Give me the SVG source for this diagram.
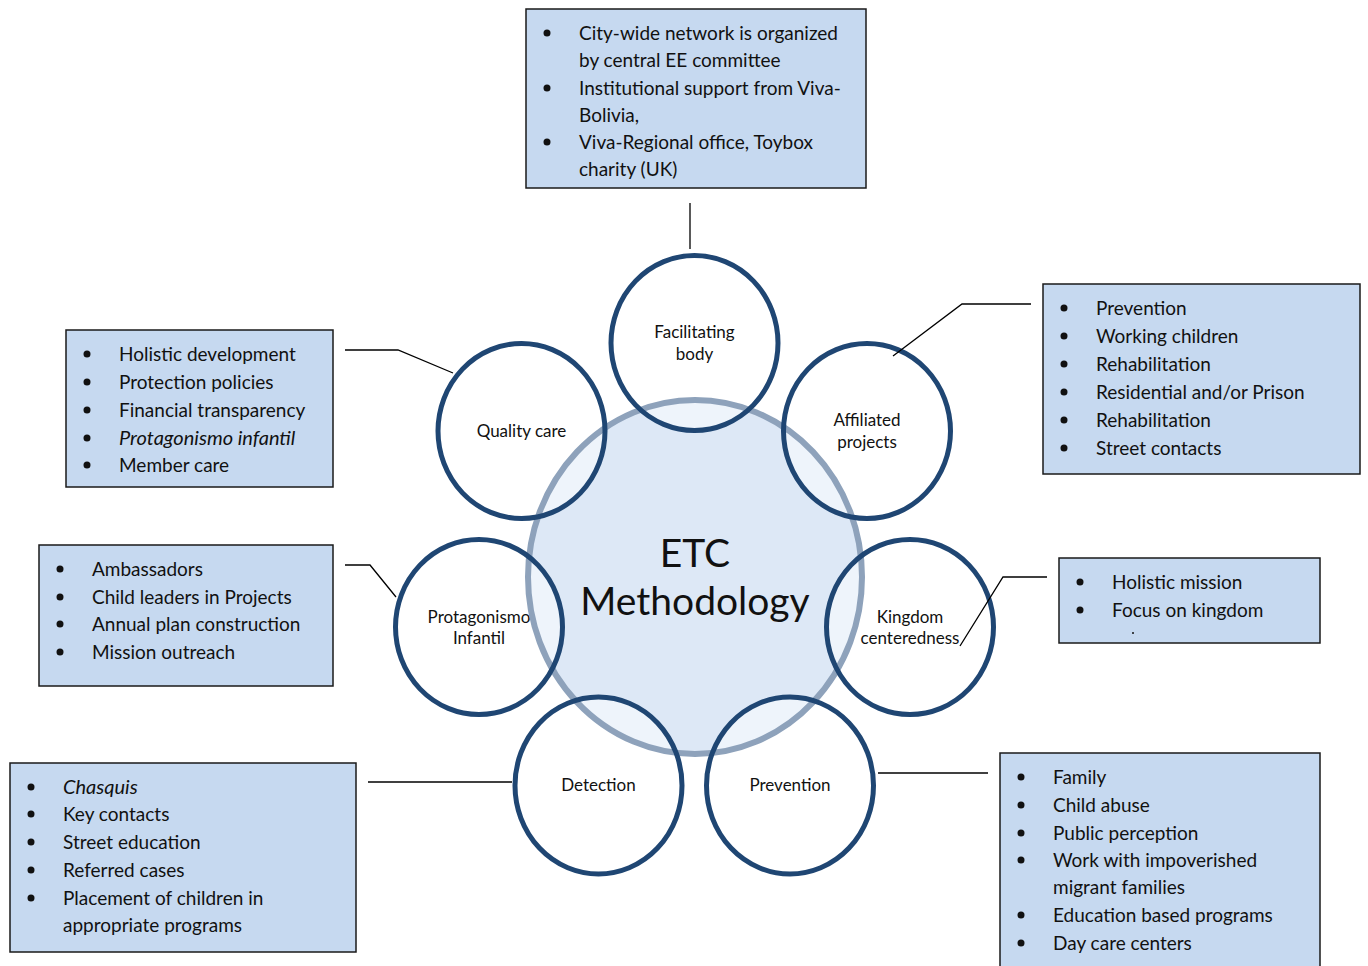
<svg xmlns="http://www.w3.org/2000/svg" width="1368" height="966" viewBox="0 0 1368 966">
<defs>
<style>
.box{fill:#c6d9f0;stroke:#1a1a1a;stroke-width:1.5}
.bt{font-family:Lato,"Liberation Sans",sans-serif;font-size:19px;fill:#111}
.it{font-style:italic;font-size:20px}
.bul{fill:#111}
.sf{fill:#ffffff;fill-opacity:0.5}
.so{fill:none;stroke:#1f4673;stroke-width:5}
.ct{font-family:Lato,"Liberation Sans",sans-serif;font-size:17px;fill:#111;text-anchor:middle}
.big{font-family:Lato,"Liberation Sans",sans-serif;font-size:39px;fill:#111;text-anchor:middle}
.con{fill:none;stroke:#000;stroke-width:1.3}
</style>
</defs>
<rect width="1368" height="966" fill="#fff"/>

<g id="etc-center">
<ellipse cx="695" cy="577" rx="167" ry="177" fill="#dde8f6"/>
</g>

<g id="node-facilitating">
<ellipse class="sf" cx="694.5" cy="343" rx="83.5" ry="87.5"/>
<text class="ct" x="694.5" y="338">Facilitating</text>
<text class="ct" x="694.5" y="360">body</text>
</g>
<g id="node-affiliated">
<ellipse class="sf" cx="867" cy="431" rx="83.5" ry="87.5"/>
<text class="ct" x="867" y="426">Affiliated</text>
<text class="ct" x="867" y="448">projects</text>
</g>
<g id="node-quality">
<ellipse class="sf" cx="521.5" cy="431" rx="83.5" ry="87.5"/>
<text class="ct" x="521.5" y="437">Quality care</text>
</g>
<g id="node-kingdom">
<ellipse class="sf" cx="910" cy="627" rx="83.5" ry="87.5"/>
<text class="ct" x="910" y="623">Kingdom</text>
<text class="ct" x="910" y="644">centeredness</text>
</g>
<g id="node-protagonismo">
<ellipse class="sf" cx="479" cy="627" rx="83.5" ry="87.5"/>
<text class="ct" x="479" y="623">Protagonismo</text>
<text class="ct" x="479" y="644">Infantil</text>
</g>
<g id="node-detection">
<ellipse class="sf" cx="598.5" cy="785.5" rx="83.5" ry="88.5"/>
<text class="ct" x="598.5" y="791">Detection</text>
</g>
<g id="node-prevention">
<ellipse class="sf" cx="790" cy="785.5" rx="83.5" ry="88.5"/>
<text class="ct" x="790" y="791">Prevention</text>
</g>

<g id="etc-ring">
<ellipse cx="695" cy="577" rx="167" ry="177" fill="none" stroke="#8ea2bb" stroke-width="6"/>
<text class="big" x="695" y="567">ETC</text>
<text class="big" x="695" y="615">Methodology</text>
</g>

<g id="satellite-outlines">
<ellipse class="so" cx="694.5" cy="343" rx="83.5" ry="87.5"/>
<ellipse class="so" cx="867" cy="431" rx="83.5" ry="87.5"/>
<ellipse class="so" cx="521.5" cy="431" rx="83.5" ry="87.5"/>
<ellipse class="so" cx="910" cy="627" rx="83.5" ry="87.5"/>
<ellipse class="so" cx="479" cy="627" rx="83.5" ry="87.5"/>
<ellipse class="so" cx="598.5" cy="785.5" rx="83.5" ry="88.5"/>
<ellipse class="so" cx="790" cy="785.5" rx="83.5" ry="88.5"/>
</g>

<g id="connectors">
<line class="con" x1="690" y1="203" x2="690" y2="249"/>
<polyline class="con" points="345,350 398,350 453,373"/>
<polyline class="con" points="1031,304 962,304 893,356"/>
<polyline class="con" points="345,565 370,565 396,597"/>
<polyline class="con" points="1047,577 1003,577 960,646"/>
<line class="con" x1="368" y1="782" x2="512" y2="782"/>
<line class="con" x1="878" y1="773" x2="988" y2="773"/>
</g>

<g id="box-top">
<rect class="box" x="526" y="9" width="340" height="179"/>
<circle class="bul" cx="547" cy="33" r="3.5"/>
<circle class="bul" cx="547" cy="88" r="3.5"/>
<circle class="bul" cx="547" cy="142" r="3.5"/>
<text class="bt" x="579" y="40">City-wide network is organized</text>
<text class="bt" x="579" y="67">by central EE committee</text>
<text class="bt" x="579" y="95">Institutional support from Viva-</text>
<text class="bt" x="579" y="122">Bolivia,</text>
<text class="bt" x="579" y="149">Viva-Regional office, Toybox</text>
<text class="bt" x="579" y="176">charity (UK)</text>
</g>

<g id="box-affiliated">
<rect class="box" x="1043" y="284" width="317" height="190"/>
<circle class="bul" cx="1064" cy="308" r="3.5"/>
<circle class="bul" cx="1064" cy="336" r="3.5"/>
<circle class="bul" cx="1064" cy="364" r="3.5"/>
<circle class="bul" cx="1064" cy="392" r="3.5"/>
<circle class="bul" cx="1064" cy="420" r="3.5"/>
<circle class="bul" cx="1064" cy="448" r="3.5"/>
<text class="bt" x="1096" y="315">Prevention</text>
<text class="bt" x="1096" y="343">Working children</text>
<text class="bt" x="1096" y="371">Rehabilitation</text>
<text class="bt" x="1096" y="399">Residential and/or Prison</text>
<text class="bt" x="1096" y="427">Rehabilitation</text>
<text class="bt" x="1096" y="455">Street contacts</text>
</g>

<g id="box-kingdom">
<rect class="box" x="1059" y="558" width="261" height="85"/>
<circle class="bul" cx="1080" cy="582" r="3.5"/>
<circle class="bul" cx="1080" cy="610" r="3.5"/>
<text class="bt" x="1112" y="589">Holistic mission</text>
<text class="bt" x="1112" y="617">Focus on kingdom</text>
<circle class="bul" cx="1133" cy="633" r="1"/>
</g>

<g id="box-prevention">
<rect class="box" x="1000" y="753" width="320" height="230"/>
<circle class="bul" cx="1021" cy="777" r="3.5"/>
<circle class="bul" cx="1021" cy="805" r="3.5"/>
<circle class="bul" cx="1021" cy="833" r="3.5"/>
<circle class="bul" cx="1021" cy="860" r="3.5"/>
<circle class="bul" cx="1021" cy="915" r="3.5"/>
<circle class="bul" cx="1021" cy="943" r="3.5"/>
<text class="bt" x="1053" y="784">Family</text>
<text class="bt" x="1053" y="812">Child abuse</text>
<text class="bt" x="1053" y="840">Public perception</text>
<text class="bt" x="1053" y="867">Work with impoverished</text>
<text class="bt" x="1053" y="894">migrant families</text>
<text class="bt" x="1053" y="922">Education based programs</text>
<text class="bt" x="1053" y="950">Day care centers</text>
</g>

<g id="box-quality">
<rect class="box" x="66" y="330" width="267" height="157"/>
<circle class="bul" cx="87" cy="354" r="3.5"/>
<circle class="bul" cx="87" cy="382" r="3.5"/>
<circle class="bul" cx="87" cy="410" r="3.5"/>
<circle class="bul" cx="87" cy="438" r="3.5"/>
<circle class="bul" cx="87" cy="465" r="3.5"/>
<text class="bt" x="119" y="361">Holistic development</text>
<text class="bt" x="119" y="389">Protection policies</text>
<text class="bt" x="119" y="417">Financial transparency</text>
<text class="bt it" x="119" y="445">Protagonismo infantil</text>
<text class="bt" x="119" y="472">Member care</text>
</g>

<g id="box-protagonismo">
<rect class="box" x="39" y="545" width="294" height="141"/>
<circle class="bul" cx="60" cy="569" r="3.5"/>
<circle class="bul" cx="60" cy="597" r="3.5"/>
<circle class="bul" cx="60" cy="624" r="3.5"/>
<circle class="bul" cx="60" cy="652" r="3.5"/>
<text class="bt" x="92" y="576">Ambassadors</text>
<text class="bt" x="92" y="604">Child leaders in Projects</text>
<text class="bt" x="92" y="631">Annual plan construction</text>
<text class="bt" x="92" y="659">Mission outreach</text>
</g>

<g id="box-detection">
<rect class="box" x="10" y="763" width="346" height="189"/>
<circle class="bul" cx="31" cy="787" r="3.5"/>
<circle class="bul" cx="31" cy="814" r="3.5"/>
<circle class="bul" cx="31" cy="842" r="3.5"/>
<circle class="bul" cx="31" cy="870" r="3.5"/>
<circle class="bul" cx="31" cy="898" r="3.5"/>
<text class="bt it" x="63" y="794">Chasquis</text>
<text class="bt" x="63" y="821">Key contacts</text>
<text class="bt" x="63" y="849">Street education</text>
<text class="bt" x="63" y="877">Referred cases</text>
<text class="bt" x="63" y="905">Placement of children in</text>
<text class="bt" x="63" y="932">appropriate programs</text>
</g>
</svg>
